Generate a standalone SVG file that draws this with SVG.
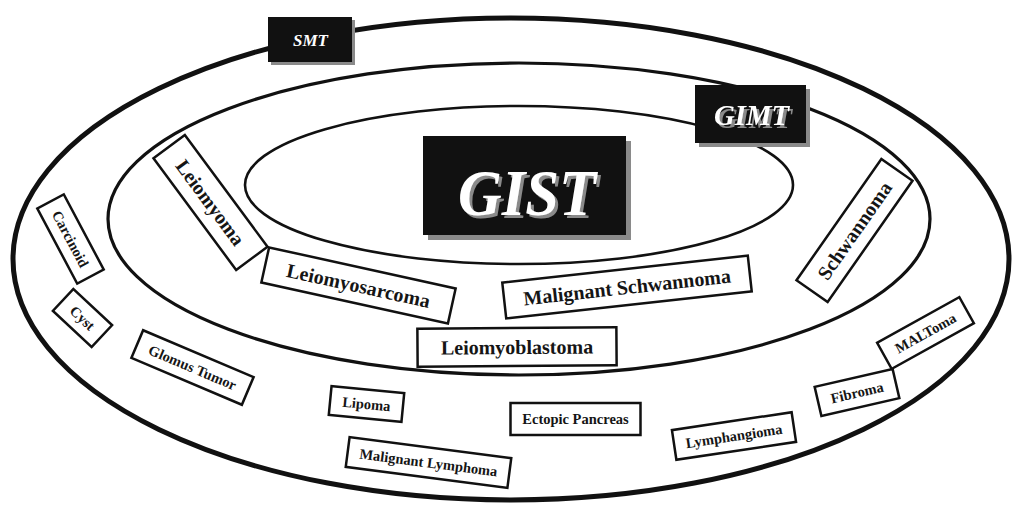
<svg xmlns="http://www.w3.org/2000/svg" width="1013" height="505" viewBox="0 0 1013 505">
<defs>
<filter id="tshadow" x="-10%" y="-10%" width="130%" height="130%">
<feOffset in="SourceAlpha" dx="2.5" dy="2.5" result="off"/>
<feFlood flood-color="#8a8a8a" result="col"/>
<feComposite in="col" in2="off" operator="in" result="sh"/>
<feMerge><feMergeNode in="sh"/><feMergeNode in="SourceGraphic"/></feMerge>
</filter>
</defs>
<style>
.ring{fill:none;stroke:#111}
.box{fill:#fff;stroke:#111;stroke-width:2.5}
.lbl{font-family:'Liberation Serif','Times New Roman',serif;font-weight:bold;text-anchor:middle;fill:#151515}
.big{font-size:20px}
.sm{font-size:14.5px}
.blk{fill:#111}
.shd{fill:#8a8a8a}
.ttl{font-family:'Liberation Serif','Times New Roman',serif;font-weight:bold;font-style:italic;text-anchor:middle;fill:#fff}
</style>
<rect width="1013" height="505" fill="#fff"/>
<g id="rings">
<ellipse class="ring" cx="511" cy="259" rx="498" ry="241" stroke-width="5"/>
<ellipse class="ring" cx="519" cy="219" rx="411" ry="156" stroke-width="3.2"/>
<ellipse class="ring" cx="519" cy="185" rx="274" ry="79" stroke-width="2.6"/>
</g>
<g id="smt">
<rect class="shd" x="271" y="20" width="84" height="45"/>
<rect class="blk" x="268" y="17" width="84" height="45"/>
<text class="ttl" x="310.5" y="45.5" font-size="17">SMT</text>
</g>
<g id="gimt">
<rect class="shd" x="699" y="89" width="111" height="58"/>
<rect class="blk" x="695" y="85" width="111" height="58"/>
<text class="ttl" x="751.5" y="125" font-size="29" textLength="75" lengthAdjust="spacingAndGlyphs" filter="url(#tshadow)">GIMT</text>
</g>
<g id="gist">
<rect class="shd" x="428" y="141" width="203" height="99"/>
<rect class="blk" x="423" y="136" width="203" height="99"/>
<text class="ttl" x="527" y="215" font-size="66" textLength="138" lengthAdjust="spacingAndGlyphs" filter="url(#tshadow)">GIST</text>
</g>
<g id="leiomyoma" transform="translate(210.5,202.5) rotate(53.5)">
<rect class="box" x="-69.5" y="-19.5" width="139" height="39"/>
<text class="lbl big" y="7">Leiomyoma</text>
</g>
<g id="leiomyosarcoma" transform="translate(358.5,285.5) rotate(12.4)">
<rect class="box" x="-95.5" y="-18" width="191" height="36"/>
<text class="lbl big" y="7">Leiomyosarcoma</text>
</g>
<g id="malignant-schwannoma" transform="translate(627,287) rotate(-6.3)">
<rect class="box" x="-123.5" y="-18" width="247" height="36"/>
<text class="lbl big" y="7">Malignant Schwannoma</text>
</g>
<g id="leiomyoblastoma" transform="translate(517,347) rotate(-0.4)">
<rect class="box" x="-99.5" y="-19" width="199" height="38"/>
<text class="lbl big" y="7">Leiomyoblastoma</text>
</g>
<g id="schwannoma" transform="translate(854.5,230.5) rotate(-55)">
<rect class="box" x="-74" y="-19" width="148" height="38"/>
<text class="lbl big" y="7">Schwannoma</text>
</g>
<g id="carcinoid" transform="translate(70.5,239) rotate(62)">
<rect class="box" x="-42.5" y="-15" width="85" height="30"/>
<text class="lbl sm" y="5">Carcinoid</text>
</g>
<g id="cyst" transform="translate(82.5,318) rotate(43)">
<rect class="box" x="-26.5" y="-15" width="53" height="30"/>
<text class="lbl sm" y="5">Cyst</text>
</g>
<g id="glomus-tumor" transform="translate(192.5,367.5) rotate(23)">
<rect class="box" x="-60" y="-15" width="120" height="30"/>
<text class="lbl sm" y="5">Glomus Tumor</text>
</g>
<g id="lipoma" transform="translate(366.5,404) rotate(5.5)">
<rect class="box" x="-36.5" y="-14.5" width="73" height="29"/>
<text class="lbl sm" y="5">Lipoma</text>
</g>
<g id="ectopic-pancreas" transform="translate(575.5,419)">
<rect class="box" x="-65" y="-16" width="130" height="32"/>
<text class="lbl sm" y="5">Ectopic Pancreas</text>
</g>
<g id="malignant-lymphoma" transform="translate(428.5,462.5) rotate(7.4)">
<rect class="box" x="-81.5" y="-15" width="163" height="30"/>
<text class="lbl sm" y="5">Malignant Lymphoma</text>
</g>
<g id="lymphangioma" transform="translate(734,436) rotate(-8.5)">
<rect class="box" x="-60.5" y="-15" width="121" height="30"/>
<text class="lbl sm" y="5">Lymphangioma</text>
</g>
<g id="fibroma" transform="translate(857,392.5) rotate(-13)">
<rect class="box" x="-40" y="-15" width="80" height="30"/>
<text class="lbl sm" y="5">Fibroma</text>
</g>
<g id="maltoma" transform="translate(925.5,333) rotate(-29)">
<rect class="box" x="-47" y="-15" width="94" height="30"/>
<text class="lbl sm" y="5">MALToma</text>
</g>
</svg>
